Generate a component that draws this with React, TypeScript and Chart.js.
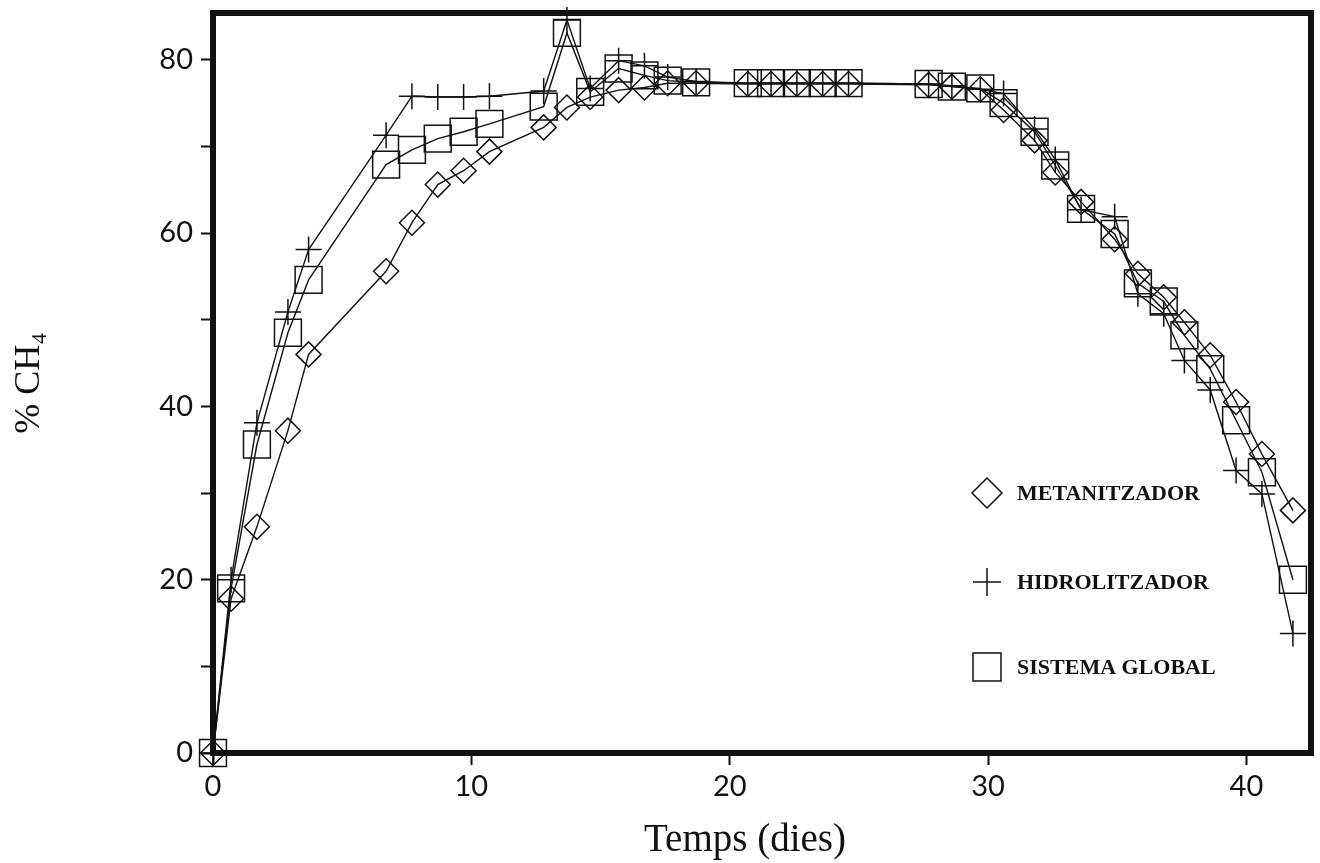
import React, { useEffect, useRef } from 'react';
import { Chart, registerables } from 'chart.js';

Chart.register(...registerables);

// ---- data ----
const dies = [0, 0.7, 1.7, 2.9, 3.7, 6.7, 7.7, 8.7, 9.7, 10.7, 12.8, 13.7, 14.6, 15.7, 16.7, 17.6, 18.7, 20.7, 21.6, 22.6, 23.6, 24.6, 27.7, 28.6, 29.7, 30.6, 31.8, 32.6, 33.6, 34.9, 35.8, 36.8, 37.6, 38.6, 39.6, 40.6, 41.8];

const metanitzador = [0, 17.8, 26.1, 37.2, 46.0, 55.6, 61.2, 65.6, 67.2, 69.4, 72.2, 74.5, 75.7, 76.5, 76.8, 77.3, 77.3, 77.2, 77.2, 77.2, 77.2, 77.2, 77.1, 76.9, 76.6, 74.2, 70.7, 67.0, 63.6, 59.3, 55.3, 52.6, 49.7, 45.9, 40.5, 34.5, 28.0];

const hidrolitzador = [0, 20.0, 38.1, 50.9, 58.1, 71.3, 75.8, 75.7, 75.7, 75.8, 76.4, 84.6, 76.7, 79.9, 79.3, 78.0, 77.5, 77.3, 77.3, 77.3, 77.3, 77.3, 77.2, 77.0, 76.6, 76.1, 72.0, 68.5, 62.7, 61.9, 53.0, 50.7, 45.3, 41.9, 32.6, 29.9, 13.8];

const sistemaGlobal = [0, 19.0, 35.6, 48.5, 54.6, 67.9, 69.6, 70.9, 71.7, 72.6, 74.6, 83.1, 76.3, 79.0, 78.2, 77.6, 77.4, 77.3, 77.3, 77.3, 77.3, 77.3, 77.2, 76.9, 76.7, 75.0, 71.7, 67.8, 62.8, 59.9, 54.2, 52.1, 48.2, 44.3, 38.4, 32.4, 20.0];

const seriesNames = ['METANITZADOR', 'HIDROLITZADOR', 'SISTEMA GLOBAL'];
const xTicks = [0, 10, 20, 30, 40];
const yTicks = [0, 10, 20, 30, 40, 50, 60, 70, 80];
const yLabelledTicks = [0, 20, 40, 60, 80];
const xTitle = 'Temps (dies)';
const yTitle = '% CH\u2084';

const INK = '#111111';

const framePlugin = {
  id: 'frame',
  beforeDatasetsDraw(chart: any) {
    const { ctx, chartArea } = chart;
    ctx.save();
    ctx.strokeStyle = INK;
    ctx.lineWidth = 6;
    ctx.strokeRect(chartArea.left, chartArea.top, chartArea.right - chartArea.left, chartArea.bottom - chartArea.top);
    ctx.restore();
  },
};

const xTitlePlugin = {
  id: 'xTitle',
  afterDraw(chart: any) {
    const { ctx } = chart;
    ctx.save();
    ctx.fillStyle = INK;
    ctx.font = '39px "Liberation Serif", "Times New Roman", serif';
    ctx.textAlign = 'center';
    ctx.textBaseline = 'alphabetic';
    ctx.fillText(xTitle, 745, 851);
    ctx.restore();
  },
};

const legendPlugin = {
  id: 'customLegend',
  afterDraw(chart: any) {
    const { ctx } = chart;
    const mx = 987;
    const tx = 1017;
    const ys = [493, 582, 667];
    ctx.save();
    ctx.strokeStyle = INK;
    ctx.fillStyle = INK;
    ctx.lineWidth = 1.5;
    ctx.font = 'bold 22px "Liberation Serif", "Times New Roman", serif';
    ctx.textAlign = 'left';
    ctx.textBaseline = 'middle';
    chart.data.datasets.forEach((ds: any, i: number) => {
      const y = ys[i];
      const style = ds.pointStyle;
      ctx.beginPath();
      if (style === 'rectRot') {
        const r = 15;
        ctx.moveTo(mx - r, y);
        ctx.lineTo(mx, y - r);
        ctx.lineTo(mx + r, y);
        ctx.lineTo(mx, y + r);
        ctx.closePath();
      } else if (style === 'cross') {
        const r = 14;
        ctx.moveTo(mx - r, y);
        ctx.lineTo(mx + r, y);
        ctx.moveTo(mx, y - r);
        ctx.lineTo(mx, y + r);
      } else {
        const h = 14;
        ctx.rect(mx - h, y - h, 2 * h, 2 * h);
      }
      ctx.stroke();
      ctx.fillText(ds.label, tx, y + 1);
    });
    ctx.restore();
  },
};

function makeSeries(label: string, values: number[], pointStyle: string, radius: number) {
  return {
    label,
    data: dies.map((d, i) => ({ x: d, y: values[i] })),
    borderColor: INK,
    borderWidth: 1.4,
    pointStyle,
    pointRadius: radius,
    pointHoverRadius: radius,
    pointBorderWidth: 1.5,
    pointBorderColor: INK,
    pointBackgroundColor: 'rgba(0,0,0,0)',
    tension: 0,
    fill: false,
    clip: false,
  };
}

export default function App() {
  const canvasRef = useRef<HTMLCanvasElement | null>(null);

  useEffect(() => {
    document.body.style.margin = '0';
    const canvas = canvasRef.current;
    if (!canvas) return;
    const chart = new Chart(canvas, {
      type: 'line',
      data: {
        datasets: [
          makeSeries(seriesNames[0], metanitzador, 'rectRot', 12.5),
          makeSeries(seriesNames[1], hidrolitzador, 'cross', 13),
          makeSeries(seriesNames[2], sistemaGlobal, 'rect', 19),
        ] as any,
      },
      options: {
        animation: false,
        responsive: false,
        devicePixelRatio: 1,
        layout: { autoPadding: false, padding: { top: 13, right: 9, left: 0, bottom: 0 } },
        plugins: {
          legend: { display: false },
          tooltip: { enabled: false },
        },
        scales: {
          x: {
            type: 'linear',
            min: 0,
            max: 42.5,
            afterBuildTicks(scale: any) {
              scale.ticks = xTicks.map((v) => ({ value: v }));
            },
            afterFit(scale: any) {
              scale.height = 110;
              scale.paddingLeft = 0;
              scale.paddingRight = 0;
            },
            grid: {
              drawOnChartArea: false,
              drawTicks: true,
              tickLength: 12,
              tickWidth: 2,
              tickColor: INK,
            },
            border: { display: false },
            ticks: {
              color: INK,
              padding: 4,
              maxRotation: 0,
              font: { family: 'Lato, "Open Sans", sans-serif', size: 29 },
            },
          },
          y: {
            type: 'linear',
            min: 0,
            max: 85.4,
            afterBuildTicks(scale: any) {
              scale.ticks = yTicks.map((v) => ({ value: v }));
            },
            afterFit(scale: any) {
              scale.width = 213;
              scale.paddingTop = 0;
              scale.paddingBottom = 0;
            },
            grid: {
              drawOnChartArea: false,
              drawTicks: true,
              tickLength: 12,
              tickWidth: 2,
              tickColor: INK,
            },
            border: { display: false },
            ticks: {
              color: INK,
              padding: 8,
              font: { family: 'Lato, "Open Sans", sans-serif', size: 29 },
              callback: (v: any) => (yLabelledTicks.includes(Number(v)) ? String(v) : ''),
            },
            title: {
              display: true,
              text: yTitle,
              color: INK,
              padding: { top: 8, bottom: 0 },
              font: { family: '"Liberation Serif", "Times New Roman", serif', size: 36 },
            },
          },
        },
      },
      plugins: [framePlugin, xTitlePlugin, legendPlugin],
    });
    return () => chart.destroy();
  }, []);

  return (
    <div style={{ width: 1320, height: 863, background: '#ffffff' }}>
      <canvas ref={canvasRef} width={1320} height={863} style={{ display: 'block' }} />
    </div>
  );
}
